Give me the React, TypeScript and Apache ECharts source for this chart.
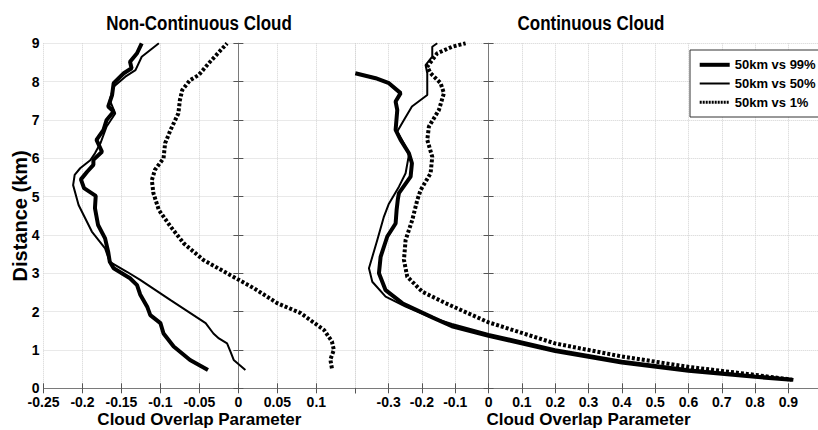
import React, { useEffect, useRef } from "react";
import * as echarts from "echarts";

const FONT = '"Liberation Sans", Arial, sans-serif';

const seriesNames = ["50km vs 99%", "50km vs 50%", "50km vs 1%"];
const panelTitles = ["Non-Continuous Cloud", "Continuous Cloud"];
const xAxisTitle = "Cloud Overlap Parameter";
const yAxisTitle = "Distance (km)";

// Non-continuous cloud (left panel)
const ncHeight99 = [0.48, 0.74, 1.09, 1.43, 1.7, 1.91, 2.13, 2.45, 2.69, 2.87, 3.13, 3.3, 3.56, 3.91, 4.26, 4.7, 5.02, 5.22, 5.45, 5.65, 5.83, 5.96, 6.17, 6.48, 6.74, 7.0, 7.22, 7.35, 7.65, 7.96, 8.22, 8.35, 8.52, 8.74, 9.0];
const ncValue99 = [-0.039, -0.062, -0.083, -0.096, -0.1, -0.113, -0.117, -0.126, -0.13, -0.139, -0.16, -0.165, -0.167, -0.171, -0.18, -0.184, -0.183, -0.198, -0.202, -0.194, -0.186, -0.186, -0.175, -0.182, -0.173, -0.169, -0.16, -0.167, -0.162, -0.16, -0.147, -0.137, -0.139, -0.13, -0.124];

const ncHeight50 = [0.48, 0.74, 0.95, 1.17, 1.3, 1.43, 1.7, 2.3, 2.83, 3.04, 3.3, 3.65, 4.09, 4.78, 5.3, 5.57, 5.74, 5.95, 6.13, 6.39, 6.83, 7.17, 7.52, 7.87, 8.13, 8.3, 8.65, 9.0];
const ncValue50 = [0.009, -0.006, -0.01, -0.0145, -0.025, -0.032, -0.042, -0.087, -0.126, -0.143, -0.165, -0.171, -0.188, -0.205, -0.212, -0.21, -0.203, -0.19, -0.184, -0.177, -0.169, -0.158, -0.165, -0.16, -0.145, -0.132, -0.124, -0.102];

const ncHeight1 = [0.52, 0.75, 1.0, 1.22, 1.52, 1.96, 2.22, 2.61, 3.0, 3.35, 3.78, 4.22, 4.65, 5.09, 5.43, 5.7, 6.0, 6.39, 6.74, 7.17, 7.52, 7.78, 8.04, 8.17, 8.48, 9.0];
const ncValue1 = [0.12, 0.118, 0.1225, 0.12, 0.11, 0.08, 0.05, 0.02, -0.0145, -0.045, -0.07, -0.087, -0.102, -0.109, -0.111, -0.107, -0.096, -0.094, -0.087, -0.077, -0.075, -0.072, -0.062, -0.051, -0.038, -0.0145];

// Continuous cloud (right panel)
const cHeight99 = [0.22, 0.3, 0.46, 0.67, 0.97, 1.37, 1.62, 1.85, 2.22, 2.56, 3.0, 3.43, 3.96, 4.3, 4.65, 4.95, 5.09, 5.52, 5.87, 6.13, 6.48, 6.74, 7.26, 7.48, 7.7, 7.96, 8.09, 8.22];
const cValue99 = [0.91, 0.8, 0.6, 0.4, 0.2, 0.0, -0.11, -0.169, -0.259, -0.309, -0.329, -0.324, -0.304, -0.279, -0.276, -0.272, -0.269, -0.234, -0.23, -0.239, -0.264, -0.279, -0.274, -0.279, -0.264, -0.299, -0.339, -0.4];

const cHeight50 = [0.24, 0.33, 0.5, 0.72, 1.02, 1.42, 1.68, 1.87, 2.13, 2.39, 2.78, 3.13, 3.87, 4.48, 4.8, 5.26, 5.61, 6.09, 6.3, 6.7, 7.0, 7.35, 7.65, 8.22, 8.43, 8.65, 8.91, 9.0];
const cValue50 = [0.91, 0.8, 0.6, 0.4, 0.2, 0.0, -0.11, -0.179, -0.249, -0.309, -0.349, -0.359, -0.334, -0.314, -0.3, -0.269, -0.249, -0.239, -0.249, -0.274, -0.254, -0.23, -0.184, -0.184, -0.189, -0.169, -0.169, -0.154];

const cHeight1 = [0.22, 0.35, 0.56, 0.83, 1.17, 1.72, 1.91, 2.22, 2.52, 2.91, 3.35, 3.87, 4.39, 4.91, 5.17, 5.61, 6.04, 6.48, 6.83, 7.26, 7.7, 7.96, 8.22, 8.39, 8.74, 8.91, 9.0];
const cValue1 = [0.915, 0.8, 0.6, 0.4, 0.2, 0.0, -0.049, -0.129, -0.199, -0.244, -0.254, -0.249, -0.229, -0.214, -0.204, -0.174, -0.169, -0.184, -0.179, -0.149, -0.134, -0.144, -0.174, -0.184, -0.154, -0.109, -0.069];

const pairs = (xs: number[], ys: number[]) => xs.map((x, i) => [x, ys[i]]);

const lineStyles: any[] = [
  { color: "#000", width: 4, type: "solid" },
  { color: "#000", width: 2, type: "solid" },
  { color: "#000", width: 4, type: [3, 2], cap: "butt" },
];
const legendLineStyles: any[] = [
  { color: "#000", width: 4, type: "solid" },
  { color: "#000", width: 2, type: "solid" },
  { color: "#000", width: 3, type: [2, 1], cap: "butt" },
];

export default function App() {
  const ref = useRef<HTMLDivElement>(null);
  useEffect(() => {
    if (!ref.current) return;
    const chart = echarts.init(ref.current, undefined, { renderer: "svg" });
    const axisLine = { show: true, lineStyle: { color: "#7a7a7a", width: 1 } };
    const tick = { show: true, inside: true, length: 5, lineStyle: { color: "#555" } };
    const split = { show: true, lineStyle: { color: "#d2d2d2", type: "dotted", width: 1 } };
    const xLabel = { fontFamily: FONT, fontWeight: "bold", fontSize: 14, lineHeight: 14, color: "#000", margin: 7 };
    const nameStyle = { fontFamily: FONT, fontWeight: "bold", fontSize: 17, lineHeight: 17, color: "#000" };
    const leftData = [pairs(ncValue99, ncHeight99), pairs(ncValue50, ncHeight50), pairs(ncValue1, ncHeight1)];
    const rightData = [pairs(cValue99, cHeight99), pairs(cValue50, cHeight50), pairs(cValue1, cHeight1)];
    const series: any[] = [];
    [leftData, rightData].forEach((panel, p) => {
      panel.forEach((d, i) => {
        series.push({
          type: "line",
          name: seriesNames[i],
          xAxisIndex: p * 2,
          yAxisIndex: p * 2,
          data: d,
          symbol: "none",
          smooth: false,
          lineStyle: lineStyles[i],
          itemStyle: { color: "#000" },
          z: 3 - i,
        });
      });
    });
    const ranges = [
      { min: -0.25, max: 0.15, interval: 0.05 },
      { min: -0.4, max: 1.0, interval: 0.1 },
    ];
    const xAxis: any[] = [];
    const yAxis: any[] = [];
    ranges.forEach((r, p) => {
      xAxis.push({
        type: "value", gridIndex: p, position: "bottom", ...r,
        axisLine, axisTick: tick, splitLine: split,
        axisLabel: { ...xLabel, showMinLabel: p === 0, showMaxLabel: false },
        name: xAxisTitle, nameLocation: "middle", nameGap: 22.5, nameMoveOverlap: false,
        nameTextStyle: nameStyle,
      });
      xAxis.push({
        type: "value", gridIndex: p, position: "top", ...r,
        axisLine, axisTick: tick, splitLine: { show: false }, axisLabel: { show: false },
      });
      yAxis.push({
        type: "value", gridIndex: p, position: "left", min: 0, max: 9, interval: 1,
        axisLine, axisTick: tick, splitLine: split,
        axisLabel: p === 0
          ? { fontFamily: FONT, fontWeight: "bold", fontSize: 14, lineHeight: 13, color: "#000", margin: 4 }
          : { show: false },
        name: p === 0 ? yAxisTitle : "",
        nameLocation: "middle", nameGap: 13.5, nameRotate: 90, nameMoveOverlap: false,
        nameTextStyle: { ...nameStyle, fontSize: 20, lineHeight: 20 },
      });
      yAxis.push({
        type: "value", gridIndex: p, position: "right", min: 0, max: 9, interval: 1,
        axisLine, axisTick: tick, splitLine: { show: false }, axisLabel: { show: false },
      });
    });
    chart.setOption({
      animation: false,
      backgroundColor: "#fff",
      grid: [
        { left: 43.5, top: 43.3, width: 311.8, height: 345, outerBoundsMode: "none", containLabel: false },
        { left: 355.3, top: 43.3, width: 466.4, height: 345, outerBoundsMode: "none", containLabel: false },
      ],
      xAxis,
      yAxis,
      legend: {
        data: seriesNames.map((name, i) => ({ name, lineStyle: legendLineStyles[i] })),
        orient: "vertical",
        left: 690,
        top: 50,
        itemWidth: 30,
        itemHeight: 14,
        itemGap: 5.7,
        padding: [8.3, 3, 8.3, 7.7],
        backgroundColor: "#fff",
        borderColor: "#333",
        borderWidth: 1,
        borderRadius: 0,
        itemStyle: { opacity: 0, color: "rgba(0,0,0,0)", borderWidth: 0 },
        textStyle: { fontFamily: FONT, fontWeight: "bold", fontSize: 13, color: "#000" },
        selectedMode: false,
      },
      graphic: [
        {
          type: "text", x: 199, y: 23, scaleX: 0.87,
          style: { text: panelTitles[0], font: `bold 19.5px ${FONT}`, fill: "#000", textAlign: "center", textVerticalAlign: "middle" },
        },
        {
          type: "text", x: 591, y: 23, scaleX: 0.87,
          style: { text: panelTitles[1], font: `bold 19.5px ${FONT}`, fill: "#000", textAlign: "center", textVerticalAlign: "middle" },
        },
      ],
      series,
    });
    return () => chart.dispose();
  }, []);
  return (
    <div
      ref={ref}
      style={{ position: "fixed", left: 0, top: 0, width: 818, height: 430, background: "#fff" }}
    />
  );
}
